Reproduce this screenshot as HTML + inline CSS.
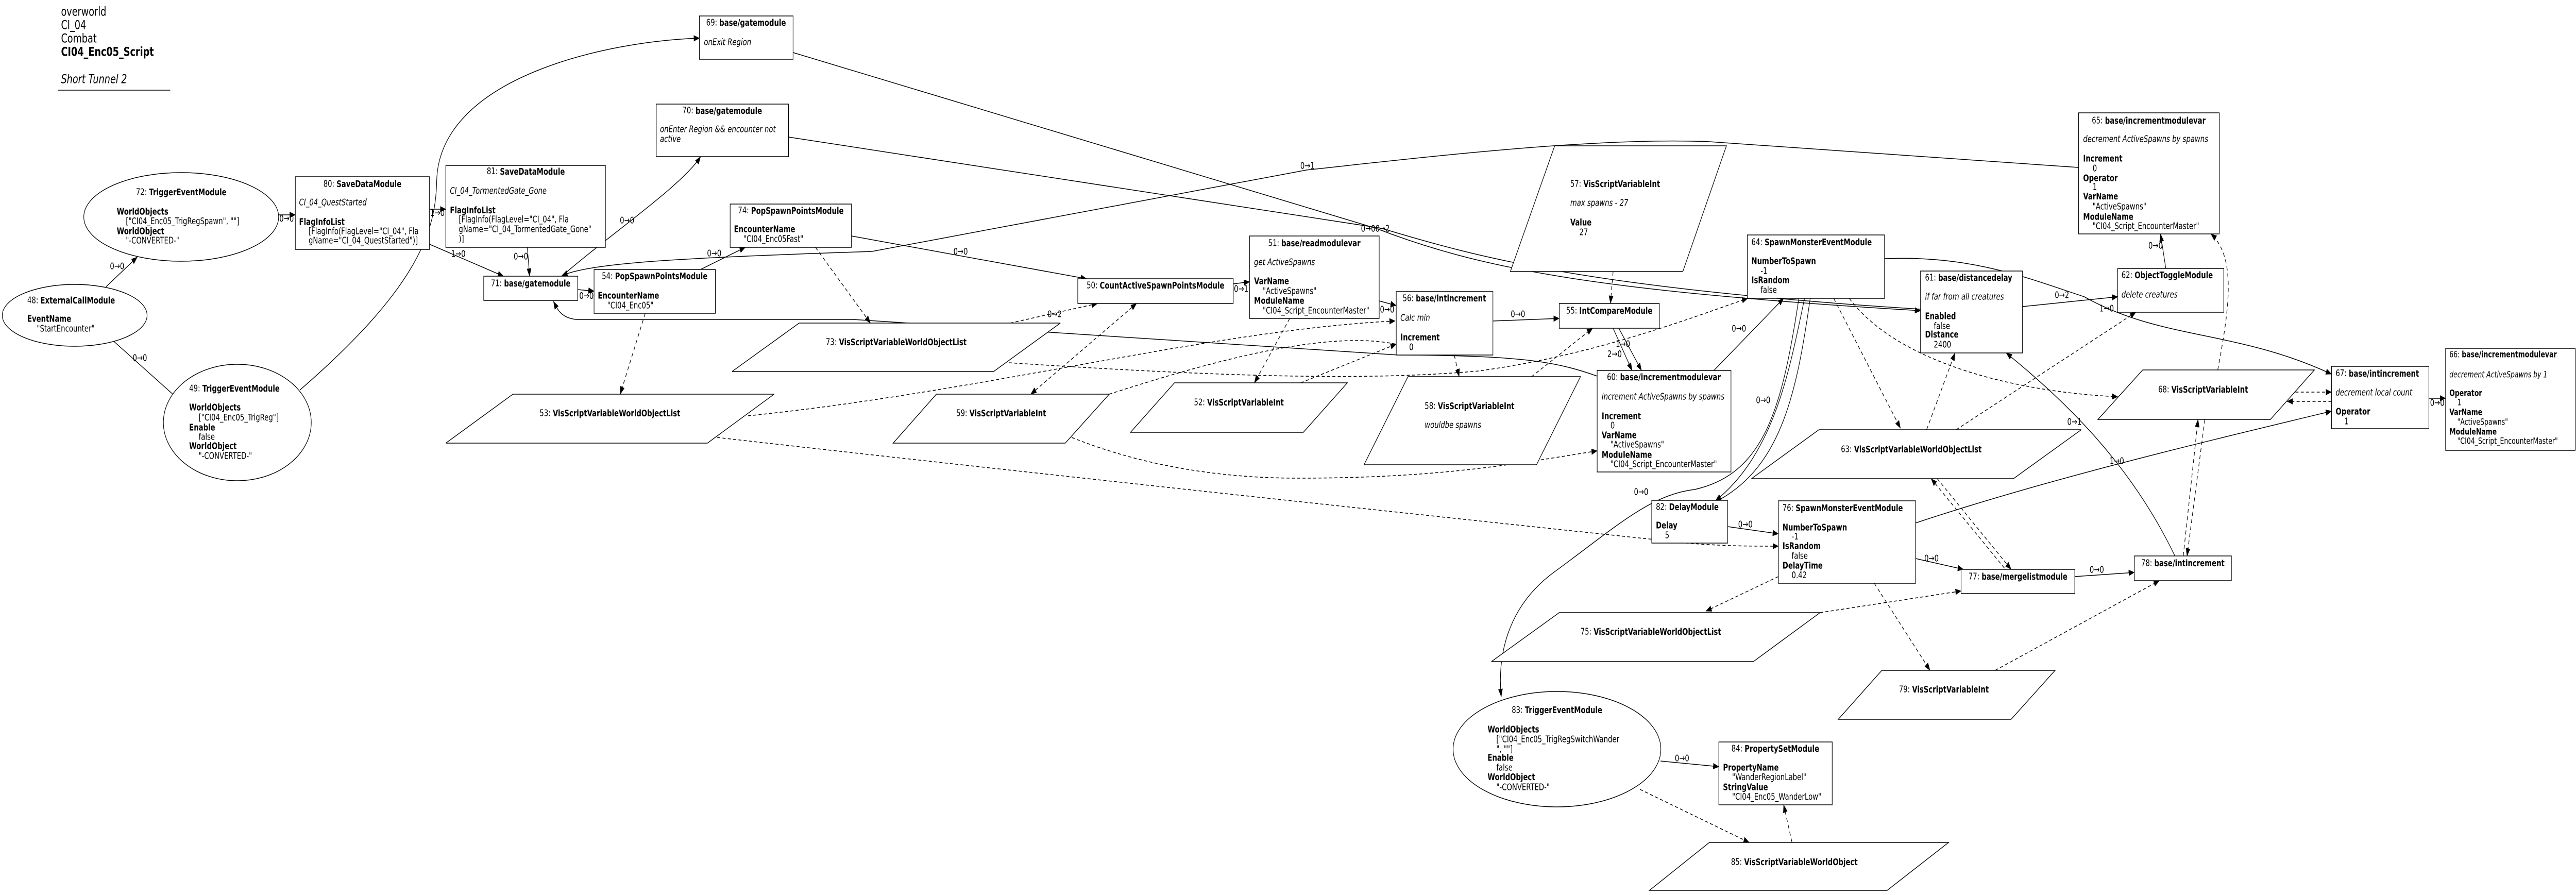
<!DOCTYPE html>
<html><head><meta charset="utf-8"><style>
html,body{margin:0;padding:0;background:#fff;overflow:hidden;width:100%;height:100%}
svg{display:block;position:fixed;left:0;top:0;width:100vw;height:100vh}
text{font-family:"DejaVu Sans","Liberation Sans",sans-serif;font-size:18px;fill:#000;dominant-baseline:central}
.b{font-weight:bold}
.i{font-style:italic}
.c{text-anchor:middle}
.sm{font-size:17px}
.n{fill:#fff;stroke:#000;stroke-width:1.5}
.e{fill:none;stroke:#000;stroke-width:1.5}
.d{fill:none;stroke:#000;stroke-width:1.5;stroke-dasharray:8,6}
</style></head><body>
<svg viewBox="0 0 6795 1737" preserveAspectRatio="none" xmlns="http://www.w3.org/2000/svg">
<defs>
<marker id="a" markerWidth="16" markerHeight="12" refX="15" refY="6" orient="auto" markerUnits="userSpaceOnUse"><path d="M0,0 L16,6 L0,12 z" fill="#000"/></marker>
<marker id="s" markerWidth="16" markerHeight="12" refX="1" refY="6" orient="auto" markerUnits="userSpaceOnUse"><path d="M16,0 L0,6 L16,12 z" fill="#000"/></marker>
</defs>

<text x="161" y="22" style="font-size:24px">overworld</text>
<text x="161" y="48" style="font-size:24px">CI_04</text>
<text x="161" y="74" style="font-size:24px">Combat</text>
<text x="161" y="100" class="b" style="font-size:24px">CI04_Enc05_Script</text>
<text x="161" y="153" class="i" style="font-size:24px">Short Tunnel  2</text>
<line x1="153" y1="175" x2="449" y2="175" stroke="#000" stroke-width="1.5"/>

<path class="e" d="M279,557 L362,499" marker-end="url(#a)"/>
<text x="290" y="516">0→0</text>
<path class="e" d="M301,663 L477,779" marker-end="url(#a)"/>
<text x="350" y="694">0→0</text>
<path class="e" d="M736,417 L779,417" marker-end="url(#a)"/>
<text x="737" y="424">0→0</text>
<path class="e" d="M1133,406 L1176,406" marker-end="url(#a)"/>
<text x="1135" y="413">1→0</text>
<path class="e" d="M1133,474 L1328,536" marker-end="url(#a)"/>
<text x="1190" y="492">1→0</text>
<path class="e" d="M1391,480 L1397,536" marker-end="url(#a)"/>
<text x="1355" y="497">0→0</text>
<path class="e" d="M791,757 C1100,560 1150,450 1152,350 C1160,150 1600,80 1845,74" marker-end="url(#a)"/>
<path class="e" d="M1482,536 C1600,460 1800,360 1848,304" marker-end="url(#a)"/>
<text x="1635" y="427">0→0</text>
<path class="e" d="M1524,562 L1567,565" marker-end="url(#a)"/>
<text x="1528" y="574">0→0</text>
<path class="e" d="M1848,523 L1966,480" marker-end="url(#a)"/>
<text x="1865" y="491">0→0</text>
<path class="e" d="M2246,458 L2866,541" marker-end="url(#a)"/>
<text x="2515" y="488">0→0</text>
<path class="e" d="M5483,325 L4509,275 C4200,265 3700,310 3446,330 L2300,488 C1800,500 1560,510 1482,535" marker-end="url(#a)"/>
<text x="3430" y="321">0→1</text>
<path class="e" d="M2092,102 L3629,443 C3900,520 4200,565 5066,603" marker-end="url(#a)"/>
<path class="e" d="M2080,266 L3644,443 C3900,500 4200,560 5066,600"/>
<text x="3590" y="443">0→00→2</text>
<path class="e" d="M3253,551 L3296,547" marker-end="url(#a)"/>
<text x="3255" y="560">0→1</text>
<path class="e" d="M3638,584 L3683,593" marker-end="url(#a)"/>
<text x="3640" y="600">0→0</text>
<path class="e" d="M3938,623 L4113,618" marker-end="url(#a)"/>
<text x="3985" y="609">0→0</text>
<path class="e" d="M4255,637 L4305,719" marker-end="url(#a)"/>
<path class="e" d="M4270,637 L4330,719" marker-end="url(#a)"/>
<text x="4262" y="667">1→0</text>
<text x="4240" y="687">2→0</text>
<path class="e" d="M4521,719 L4705,579" marker-end="url(#a)"/>
<text x="4568" y="637">0→0</text>
<path class="e" d="M4760,579 C4720,720 4680,880 4525,972" marker-end="url(#a)"/>
<path class="e" d="M4775,579 C4740,760 4700,900 4540,968"/>
<text x="4632" y="776">0→0</text>
<path class="e" d="M4745,579 C4700,800 4650,920 4470,950 C4350,960 4250,1030 4100,1110 C3970,1180 3950,1280 3960,1352" marker-end="url(#a)"/>
<text x="4310" y="954">0→0</text>
<path class="e" d="M4557,1022 L4691,1036" marker-end="url(#a)"/>
<text x="4585" y="1017">0→0</text>
<path class="e" d="M5053,1015 C5400,930 5800,860 6150,798" marker-end="url(#a)"/>
<text x="5565" y="894">1→0</text>
<path class="e" d="M5053,1084 L5179,1105" marker-end="url(#a)"/>
<text x="5076" y="1083">0→0</text>
<path class="e" d="M5473,1119 L5630,1111" marker-end="url(#a)"/>
<text x="5512" y="1105">0→0</text>
<path class="e" d="M5737,1079 C5620,900 5450,780 5292,685" marker-end="url(#a)"/>
<text x="5453" y="818">0→1</text>
<path class="e" d="M5335,595 L5586,576" marker-end="url(#a)"/>
<text x="5420" y="572">0→2</text>
<text x="5538" y="598">1→0</text>
<path class="e" d="M5713,521 L5699,454" marker-end="url(#a)"/>
<text x="5667" y="476">0→0</text>
<path class="e" d="M4971,502 C5200,495 5350,540 5498,576 C5700,660 5900,640 6150,726" marker-end="url(#a)"/>
<path class="e" d="M6407,773 L6451,773" marker-end="url(#a)"/>
<text x="6410" y="781">0→0</text>
<path class="e" d="M4380,1477 L4534,1488" marker-end="url(#a)"/>
<text x="4418" y="1471">0→0</text>
<path class="e" d="M4213,730 C4100,700 4000,690 3688,689 L2250,620 L1520,620 C1480,617 1470,600 1460,585" marker-end="url(#a)"/>

<path class="d" d="M1702,608 L1636,765" marker-end="url(#a)"/>
<path class="d" d="M2151,480 L2296,627" marker-end="url(#a)"/>
<path class="d" d="M2665,627 L2895,589" marker-end="url(#a)"/>
<text x="2763" y="609">0→2</text>
<path class="d" d="M1973,807 C2600,760 3200,640 3680,623" marker-end="url(#a)"/>
<path class="d" d="M1892,849 C2500,900 3500,980 4362,1047 C4500,1060 4600,1060 4691,1060" marker-end="url(#a)"/>
<path class="d" d="M2719,765 L2998,589" marker-start="url(#s)" marker-end="url(#a)"/>
<path class="d" d="M2827,849 C3000,900 3200,928 3424,928 C3800,928 4000,900 4213,875" marker-end="url(#a)"/>
<path class="d" d="M2926,765 C3200,700 3500,640 3683,668"/>
<path class="d" d="M3402,618 L3309,743" marker-end="url(#a)"/>
<path class="d" d="M3431,743 L3683,668" marker-end="url(#a)"/>
<path class="d" d="M3836,689 L3849,731" marker-end="url(#a)"/>
<path class="d" d="M4040,731 L4201,637" marker-end="url(#a)"/>
<path class="d" d="M4255,527 L4248,589" marker-end="url(#a)"/>
<path class="d" d="M2661,704 C3200,730 3600,740 3900,720 C4200,690 4450,620 4610,579" marker-end="url(#a)"/>
<path class="d" d="M4837,579 L5013,831" marker-end="url(#a)"/>
<path class="d" d="M4878,579 C5000,700 5300,760 5586,770" marker-end="url(#a)"/>
<path class="d" d="M5082,834 L5157,685" marker-end="url(#a)"/>
<path class="d" d="M5160,834 L5634,606" marker-end="url(#a)"/>
<path class="d" d="M5094,929 L5290,1105" marker-start="url(#s)"/>
<path class="d" d="M5110,929 L5305,1105" marker-end="url(#a)"/>
<path class="d" d="M4691,1119 L4500,1186" marker-end="url(#a)"/>
<path class="d" d="M4801,1189 L5173,1147" marker-end="url(#a)"/>
<path class="d" d="M4944,1132 L5091,1301" marker-end="url(#a)"/>
<path class="d" d="M5263,1301 L5696,1127" marker-end="url(#a)"/>
<path class="d" d="M5759,1079 L5798,814" marker-end="url(#a)"/>
<path class="d" d="M5816,814 L5769,1079" marker-end="url(#a)"/>
<path class="d" d="M5850,718 C5880,600 5900,500 5832,454" marker-end="url(#a)"/>
<path class="d" d="M6055,761 L6150,761" marker-end="url(#a)"/>
<path class="d" d="M6150,779 L6033,779" marker-end="url(#a)"/>
<path class="d" d="M4326,1532 L4614,1635" marker-end="url(#a)"/>
<path class="d" d="M4727,1635 L4705,1562" marker-end="url(#a)"/>

<ellipse class="n" cx="478" cy="421" rx="257" ry="86"/>
<text x="478" y="372" class="c">72: <tspan class="b">TriggerEventModule</tspan></text>
<text x="308" y="410" class="b">WorldObjects</text>
<text x="332" y="429">["CI04_Enc05_TrigRegSpawn", ""]</text>
<text x="308" y="448" class="b">WorldObject</text>
<text x="332" y="466">"-CONVERTED-"</text>

<ellipse class="n" cx="197" cy="612" rx="191" ry="60"/>
<text x="72" y="582">48: <tspan class="b">ExternalCallModule</tspan></text>
<text x="72" y="618" class="b">EventName</text>
<text x="97" y="637">"StartEncounter"</text>

<ellipse class="n" cx="626" cy="820" rx="195" ry="113"/>
<text x="499" y="753">49: <tspan class="b">TriggerEventModule</tspan></text>
<text x="499" y="790" class="b">WorldObjects</text>
<text x="524" y="810">["CI04_Enc05_TrigReg"]</text>
<text x="499" y="829" class="b">Enable</text>
<text x="524" y="847">false</text>
<text x="499" y="865" class="b">WorldObject</text>
<text x="524" y="884">"-CONVERTED-"</text>

<rect class="n" x="779" y="343" width="354" height="141"/>
<text x="956" y="356" class="c">80: <tspan class="b">SaveDataModule</tspan></text>
<text x="789" y="392" class="i">CI_04_QuestStarted</text>
<text x="789" y="430" class="b">FlagInfoList</text>
<text x="814" y="448">[FlagInfo(FlagLevel="CI_04", Fla</text>
<text x="814" y="466">gName="CI_04_QuestStarted")]</text>

<rect class="n" x="1176" y="321" width="421" height="159"/>
<text x="1387" y="332" class="c">81: <tspan class="b">SaveDataModule</tspan></text>
<text x="1187" y="370" class="i">CI_04_TormentedGate_Gone</text>
<text x="1187" y="408" class="b">FlagInfoList</text>
<text x="1210" y="425">[FlagInfo(FlagLevel="CI_04", Fla</text>
<text x="1210" y="444">gName="CI_04_TormentedGate_Gone"</text>
<text x="1210" y="463">)]</text>

<rect class="n" x="1845" y="31" width="247" height="84"/>
<text x="1968" y="43" class="c">69: <tspan class="b">base/gatemodule</tspan></text>
<text x="1857" y="81" class="i">onExit Region</text>

<rect class="n" x="1731" y="202" width="349" height="102"/>
<text x="1905" y="214" class="c">70: <tspan class="b">base/gatemodule</tspan></text>
<text x="1741" y="250" class="i">onEnter Region &amp;&amp; encounter not</text>
<text x="1741" y="269" class="i">active</text>

<rect class="n" x="1926" y="396" width="320" height="84"/>
<text x="2086" y="408" class="c">74: <tspan class="b">PopSpawnPointsModule</tspan></text>
<text x="1936" y="444" class="b">EncounterName</text>
<text x="1961" y="463">"CI04_Enc05Fast"</text>

<rect class="n" x="1276" y="536" width="248" height="47"/>
<text x="1400" y="549" class="c">71: <tspan class="b">base/gatemodule</tspan></text>

<rect class="n" x="1567" y="523" width="320" height="85"/>
<text x="1727" y="535" class="c">54: <tspan class="b">PopSpawnPointsModule</tspan></text>
<text x="1577" y="573" class="b">EncounterName</text>
<text x="1602" y="592">"CI04_Enc05"</text>

<polygon class="n" points="1353,765 2042,765 1866,860 1176,860"/>
<text x="1609" y="801" class="c">53: <tspan class="b">VisScriptVariableWorldObjectList</tspan></text>

<polygon class="n" points="2108,627 2797,627 2621,721 1931,721"/>
<text x="2364" y="663" class="c">73: <tspan class="b">VisScriptVariableWorldObjectList</tspan></text>

<rect class="n" x="2843" y="541" width="410" height="48"/>
<text x="3048" y="553" class="c">50: <tspan class="b">CountActiveSpawnPointsModule</tspan></text>

<rect class="n" x="3296" y="458" width="342" height="160"/>
<text x="3467" y="471" class="c">51: <tspan class="b">base/readmodulevar</tspan></text>
<text x="3308" y="508" class="i">get ActiveSpawns</text>
<text x="3308" y="545" class="b">VarName</text>
<text x="3331" y="564">"ActiveSpawns"</text>
<text x="3308" y="583" class="b">ModuleName</text>
<text x="3331" y="602">"CI04_Script_EncounterMaster"</text>

<rect class="n" x="3683" y="566" width="255" height="123"/>
<text x="3810" y="578" class="c">56: <tspan class="b">base/intincrement</tspan></text>
<text x="3694" y="616" class="i">Calc min</text>
<text x="3694" y="654" class="b">Increment</text>
<text x="3717" y="673">0</text>

<rect class="n" x="4113" y="589" width="264" height="48"/>
<text x="4245" y="602" class="c">55: <tspan class="b">IntCompareModule</tspan></text>

<polygon class="n" points="4101,283 4554,283 4439,527 3984,527"/>
<text x="4142" y="356">57: <tspan class="b">VisScriptVariableInt</tspan></text>
<text x="4142" y="393" class="i">max spawns - 27</text>
<text x="4142" y="431" class="b">Value</text>
<text x="4166" y="450">27</text>

<polygon class="n" points="3098,743 3554,743 3438,839 2982,839"/>
<text x="3268" y="780" class="c">52: <tspan class="b">VisScriptVariableInt</tspan></text>

<polygon class="n" points="2470,765 2926,765 2810,860 2356,860"/>
<text x="2641" y="801" class="c">59: <tspan class="b">VisScriptVariableInt</tspan></text>

<polygon class="n" points="3714,731 4169,731 4053,902 3598,902"/>
<text x="3758" y="787">58: <tspan class="b">VisScriptVariableInt</tspan></text>
<text x="3758" y="824" class="i">wouldbe spawns</text>

<rect class="n" x="4213" y="719" width="353" height="197"/>
<text x="4389" y="731" class="c">60: <tspan class="b">base/incrementmodulevar</tspan></text>
<text x="4225" y="769" class="i">increment ActiveSpawns by spawns</text>
<text x="4225" y="807" class="b">Increment</text>
<text x="4248" y="825">0</text>
<text x="4225" y="844" class="b">VarName</text>
<text x="4248" y="862">"ActiveSpawns"</text>
<text x="4225" y="882" class="b">ModuleName</text>
<text x="4248" y="900">"CI04_Script_EncounterMaster"</text>

<rect class="n" x="4357" y="971" width="200" height="83"/>
<text x="4368" y="983">82: <tspan class="b">DelayModule</tspan></text>
<text x="4368" y="1019" class="b">Delay</text>
<text x="4392" y="1038">5</text>

<polygon class="n" points="4113,1189 4801,1189 4625,1284 3934,1284"/>
<text x="4169" y="1225">75: <tspan class="b">VisScriptVariableWorldObjectList</tspan></text>

<ellipse class="n" cx="4107" cy="1454" rx="274" ry="112"/>
<text x="4107" y="1377" class="c">83: <tspan class="b">TriggerEventModule</tspan></text>
<text x="3924" y="1415" class="b">WorldObjects</text>
<text x="3947" y="1434">["CI04_Enc05_TrigRegSwitchWander</text>
<text x="3947" y="1453">", ""]</text>
<text x="3924" y="1470" class="b">Enable</text>
<text x="3947" y="1489">false</text>
<text x="3924" y="1508" class="b">WorldObject</text>
<text x="3947" y="1527">"-CONVERTED-"</text>

<rect class="n" x="5483" y="219" width="371" height="235"/>
<text x="5668" y="233" class="c">65: <tspan class="b">base/incrementmodulevar</tspan></text>
<text x="5495" y="269" class="i">decrement ActiveSpawns by spawns</text>
<text x="5495" y="307" class="b">Increment</text>
<text x="5520" y="326">0</text>
<text x="5495" y="345" class="b">Operator</text>
<text x="5520" y="362">1</text>
<text x="5495" y="381" class="b">VarName</text>
<text x="5520" y="400">"ActiveSpawns"</text>
<text x="5495" y="420" class="b">ModuleName</text>
<text x="5520" y="438">"CI04_Script_EncounterMaster"</text>

<rect class="n" x="4609" y="456" width="362" height="123"/>
<text x="4620" y="469">64: <tspan class="b">SpawnMonsterEventModule</tspan></text>
<text x="4620" y="506" class="b">NumberToSpawn</text>
<text x="4644" y="525">-1</text>
<text x="4620" y="543" class="b">IsRandom</text>
<text x="4644" y="562">false</text>

<rect class="n" x="5066" y="526" width="269" height="159"/>
<text x="5078" y="538">61: <tspan class="b">base/distancedelay</tspan></text>
<text x="5078" y="575" class="i">if far from all creatures</text>
<text x="5078" y="613" class="b">Enabled</text>
<text x="5101" y="632">false</text>
<text x="5078" y="649" class="b">Distance</text>
<text x="5101" y="668">2400</text>

<rect class="n" x="5586" y="521" width="280" height="85"/>
<text x="5596" y="533">62: <tspan class="b">ObjectToggleModule</tspan></text>
<text x="5596" y="571" class="i">delete creatures</text>

<rect class="n" x="6150" y="711" width="257" height="121"/>
<text x="6161" y="724">67: <tspan class="b">base/intincrement</tspan></text>
<text x="6161" y="761" class="i">decrement local count</text>
<text x="6161" y="798" class="b">Operator</text>
<text x="6184" y="817">1</text>

<rect class="n" x="6451" y="676" width="342" height="198"/>
<text x="6461" y="688" class="sm">66: <tspan class="b">base/incrementmodulevar</tspan></text>
<text x="6461" y="727" class="i sm">decrement ActiveSpawns by 1</text>
<text x="6461" y="763" class="b sm">Operator</text>
<text x="6482" y="781" class="sm">1</text>
<text x="6461" y="800" class="b sm">VarName</text>
<text x="6482" y="819" class="sm">"ActiveSpawns"</text>
<text x="6461" y="838" class="b sm">ModuleName</text>
<text x="6482" y="856" class="sm">"CI04_Script_EncounterMaster"</text>

<polygon class="n" points="5652,718 6105,718 5989,814 5534,814"/>
<text x="5693" y="755">68: <tspan class="b">VisScriptVariableInt</tspan></text>

<polygon class="n" points="4798,834 5490,834 5311,929 4620,929"/>
<text x="4856" y="871">63: <tspan class="b">VisScriptVariableWorldObjectList</tspan></text>

<rect class="n" x="4691" y="972" width="362" height="160"/>
<text x="4702" y="985">76: <tspan class="b">SpawnMonsterEventModule</tspan></text>
<text x="4702" y="1023" class="b">NumberToSpawn</text>
<text x="4726" y="1041">-1</text>
<text x="4702" y="1059" class="b">IsRandom</text>
<text x="4726" y="1078">false</text>
<text x="4702" y="1097" class="b">DelayTime</text>
<text x="4726" y="1116">0.42</text>

<rect class="n" x="5173" y="1105" width="300" height="47"/>
<text x="5323" y="1118" class="c">77: <tspan class="b">base/mergelistmodule</tspan></text>

<rect class="n" x="5630" y="1079" width="256" height="48"/>
<text x="5758" y="1092" class="c">78: <tspan class="b">base/intincrement</tspan></text>

<polygon class="n" points="4964,1301 5421,1301 5305,1396 4849,1396"/>
<text x="5009" y="1337">79: <tspan class="b">VisScriptVariableInt</tspan></text>

<rect class="n" x="4534" y="1440" width="299" height="122"/>
<text x="4683" y="1452" class="c">84: <tspan class="b">PropertySetModule</tspan></text>
<text x="4545" y="1489" class="b">PropertyName</text>
<text x="4569" y="1508">"WanderRegionLabel"</text>
<text x="4545" y="1527" class="b">StringValue</text>
<text x="4569" y="1546">"CI04_Enc05_WanderLow"</text>

<polygon class="n" points="4509,1635 5140,1635 4978,1728 4351,1728"/>
<text x="4566" y="1672">85: <tspan class="b">VisScriptVariableWorldObject</tspan></text>
</svg>
</body></html>
